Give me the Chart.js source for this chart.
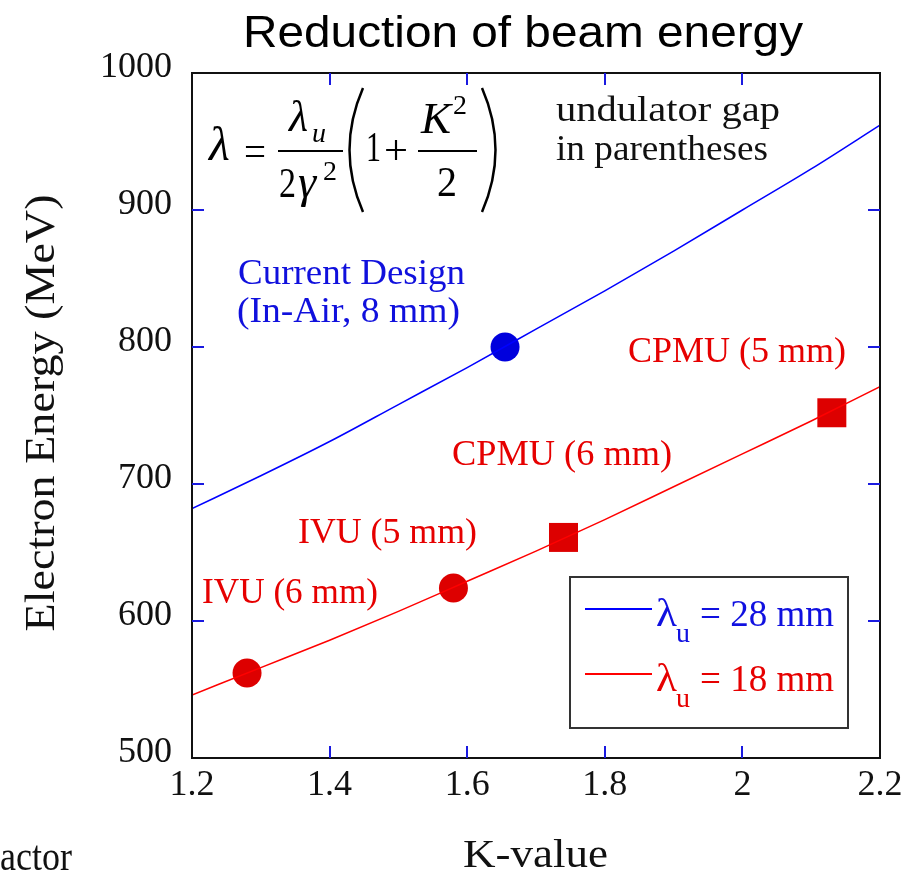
<!DOCTYPE html>
<html><head><meta charset="utf-8">
<script src="https://cdn.jsdelivr.net/npm/chart.js@4.4.1/dist/chart.umd.min.js"></script>
<style>html,body{margin:0;padding:0;background:#fff;overflow:hidden}#wrap{position:relative;width:919px;height:874px}</style>
</head><body><div id="wrap"><canvas id="c" width="919" height="874"></canvas></div>
<script>
// ---- data ----
const kValues   = [1.2, 1.3, 1.4, 1.5, 1.6, 1.7, 1.8, 1.9, 2.0, 2.1, 2.2];
const energy28  = [682, 706, 731, 758, 785, 813, 841, 870, 900, 930, 962];   // lambda_u = 28 mm
const energy18  = [546, 566, 586, 607, 629, 651, 674, 698, 722, 746, 771];   // lambda_u = 18 mm
const markK18   = [1.28, 1.58, 1.74, 2.13];
const markE18   = [562, 624, 661, 752];
const markShape = ['circle', 'circle', 'rect', 'rect'];
const designK   = [1.655];
const designE   = [800];
const xTickVals = [1.2, 1.4, 1.6, 1.8, 2.0, 2.2];
const xTickText = ['1.2', '1.4', '1.6', '1.8', '2', '2.2'];
const yTickVals = [500, 600, 700, 800, 900, 1000];
const seriesNames = ['28 mm', '18 mm'];

const SERIF = '"Liberation Serif", "Times New Roman", serif';
const SANS = '"Liberation Sans", Arial, sans-serif';

function txt(ctx, s, x, y, font, color, width, align) {
  ctx.save();
  ctx.font = font; ctx.fillStyle = color; ctx.textBaseline = 'alphabetic';
  ctx.textAlign = 'left';
  const w = ctx.measureText(s).width;
  let sx = width ? width / w : 1;
  let left = x;
  if (align === 'center') left = x - (width || w) / 2;
  ctx.translate(left, y); ctx.scale(sx, 1);
  ctx.fillText(s, 0, 0);
  ctx.restore();
}

const decor = {
  id: 'decor',
  afterDatasetsDraw(chart) {
    const ctx = chart.ctx, a = chart.chartArea;
    const xs = chart.scales.x, ys = chart.scales.y;
    // border
    ctx.save();
    ctx.strokeStyle = '#111'; ctx.lineWidth = 2;
    ctx.strokeRect(a.left, a.top, a.right - a.left, a.bottom - a.top);
    // inward ticks
    ctx.strokeStyle = '#1a1ae0'; ctx.lineWidth = 2;
    xTickVals.slice(1, -1).forEach(v => {
      const px = Math.round(xs.getPixelForValue(v));
      ctx.beginPath(); ctx.moveTo(px, a.bottom); ctx.lineTo(px, a.bottom - 12); ctx.stroke();
      ctx.beginPath(); ctx.moveTo(px, a.top); ctx.lineTo(px, a.top + 12); ctx.stroke();
    });
    yTickVals.slice(1, -1).forEach(v => {
      const py = Math.round(ys.getPixelForValue(v));
      ctx.beginPath(); ctx.moveTo(a.left, py); ctx.lineTo(a.left + 12, py); ctx.stroke();
      ctx.beginPath(); ctx.moveTo(a.right, py); ctx.lineTo(a.right - 12, py); ctx.stroke();
    });
    ctx.restore();

    // title
    txt(ctx, 'Reduction of beam energy', 243, 47, '45px ' + SANS, '#000', 560);
    // axis titles
    ctx.save();
    ctx.translate(54, 413); ctx.rotate(-Math.PI / 2);
    txt(ctx, 'Electron Energy (MeV)', 0, 0, '42px ' + SERIF, '#111', 437, 'center');
    ctx.restore();
    txt(ctx, 'K-value', 463, 867, '40px ' + SERIF, '#111', 145);
    txt(ctx, 'actor', 0, 870, '42px ' + SERIF, '#111', 72);

    // annotations
    const blue = '#1010dd', red = '#e60000';
    txt(ctx, 'Current Design', 238, 284, '36px ' + SERIF, blue, 227);
    txt(ctx, '(In-Air, 8 mm)', 237, 322, '36px ' + SERIF, blue, 223);
    txt(ctx, 'CPMU (5 mm)', 628, 362, '36px ' + SERIF, red, 218);
    txt(ctx, 'CPMU (6 mm)', 452, 465, '36px ' + SERIF, red, 220);
    txt(ctx, 'IVU (5 mm)', 298, 543, '36px ' + SERIF, red, 179);
    txt(ctx, 'IVU (6 mm)', 202, 603, '36px ' + SERIF, red, 176);
    txt(ctx, 'undulator gap', 556, 121, '36px ' + SERIF, '#111', 224);
    txt(ctx, 'in parentheses', 556, 160, '36px ' + SERIF, '#111', 212);

    // formula
    const R = '42px ' + SERIF, Rs = '27px ' + SERIF, Is = 'italic 27px ' + SERIF;
    const k = '#000';
    txt(ctx, 'λ', 209, 160, 'italic 48px ' + SERIF, k);
    txt(ctx, '=', 244, 165, R, k, 22);
    ctx.save(); ctx.strokeStyle = '#000'; ctx.lineWidth = 2;
    ctx.beginPath(); ctx.moveTo(278, 151); ctx.lineTo(343, 151); ctx.stroke();
    ctx.beginPath(); ctx.moveTo(418, 151); ctx.lineTo(477, 151); ctx.stroke();
    ctx.lineWidth = 2.5;
    ctx.beginPath(); ctx.moveTo(363, 88); ctx.quadraticCurveTo(336, 150, 363, 212); ctx.stroke();
    ctx.beginPath(); ctx.moveTo(482, 88); ctx.quadraticCurveTo(509, 150, 482, 212); ctx.stroke();
    ctx.restore();
    txt(ctx, 'λ', 289, 131, 'italic 44px ' + SERIF, k);
    txt(ctx, 'u', 312, 142, Is, k, 14);
    txt(ctx, '2', 279, 197, R, k, 17);
    txt(ctx, 'γ', 298, 197, 'italic 46px ' + SERIF, k);
    txt(ctx, '2', 323, 180, Rs, k, 14);
    txt(ctx, '1', 366, 161, R, k, 15);
    txt(ctx, '+', 384, 164, R, k, 24);
    txt(ctx, 'K', 421, 133, 'italic 44px ' + SERIF, k, 30);
    txt(ctx, '2', 453, 114, Rs, k, 14);
    txt(ctx, '2', 437, 196, R, k, 20);

    // legend
    ctx.save();
    ctx.fillStyle = '#fff'; ctx.fillRect(570, 577, 278, 151);
    ctx.strokeStyle = '#333'; ctx.lineWidth = 2; ctx.strokeRect(570, 577, 278, 151);
    const cols = ['#0000ff', '#ff0000'], tcols = ['#1010e0', '#e60000'];
    const ly = [609, 674];
    for (let i = 0; i < 2; i++) {
      ctx.strokeStyle = cols[i]; ctx.lineWidth = 2;
      ctx.beginPath(); ctx.moveTo(585, ly[i]); ctx.lineTo(652, ly[i]); ctx.stroke();
      txt(ctx, 'λ', 656, ly[i] + 17, '40px ' + SERIF, tcols[i], 21);
      txt(ctx, 'u', 676, ly[i] + 33, '27px ' + SERIF, tcols[i], 14);
      txt(ctx, '= ' + seriesNames[i], 700, ly[i] + 17, '38px ' + SERIF, tcols[i], 134);
    }
    ctx.restore();
  }
};

const chart = new Chart(document.getElementById('c'), {
  type: 'scatter',
  data: {
    datasets: [
      { label: 'λu = ' + seriesNames[0], data: kValues.map((k, i) => ({ x: k, y: energy28[i] })),
        showLine: true, borderColor: '#0000ff', borderWidth: 1.5, pointRadius: 0, cubicInterpolationMode: 'monotone' },
      { label: 'λu = ' + seriesNames[1], data: kValues.map((k, i) => ({ x: k, y: energy18[i] })),
        showLine: true, borderColor: '#ff0000', borderWidth: 1.5, pointRadius: 0, cubicInterpolationMode: 'monotone' },
      { label: 'undulators', data: markK18.map((k, i) => ({ x: k, y: markE18[i] })),
        showLine: false, pointStyle: markShape, pointRadius: markShape.map(s => s === 'rect' ? 20.5 : 14.5),
        backgroundColor: '#dd0000', borderColor: '#dd0000', borderWidth: 0 },
      { label: 'current design', data: designK.map((k, i) => ({ x: k, y: designE[i] })),
        showLine: false, pointStyle: 'circle', pointRadius: 14.5,
        backgroundColor: '#0000dd', borderColor: '#0000dd', borderWidth: 0 }
    ]
  },
  options: {
    responsive: false, animation: false, devicePixelRatio: 1,
    layout: { padding: { top: 73, right: 39, left: 0, bottom: 0 } },
    plugins: { legend: { display: false }, title: { display: false }, tooltip: { enabled: false } },
    scales: {
      x: {
        type: 'linear', min: 1.2, max: 2.2,
        afterBuildTicks: s => { s.ticks = xTickVals.map(v => ({ value: v })); },
        afterFit: s => { s.height = 116; },
        grid: { display: false, drawTicks: false }, border: { display: false },
        ticks: { font: { family: SERIF, size: 36 }, color: '#111', padding: 6, maxRotation: 0,
          callback: (v) => xTickText[xTickVals.indexOf(v)] }
      },
      y: {
        type: 'linear', min: 500, max: 1000,
        afterBuildTicks: s => { s.ticks = yTickVals.map(v => ({ value: v })); },
        afterFit: s => { s.width = 192; },
        grid: { display: false, drawTicks: false }, border: { display: false },
        ticks: { font: { family: SERIF, size: 36 }, color: '#111', padding: 20, labelOffset: -5,
          callback: v => String(v) }
      }
    }
  },
  plugins: [decor]
});
</script></body></html>
